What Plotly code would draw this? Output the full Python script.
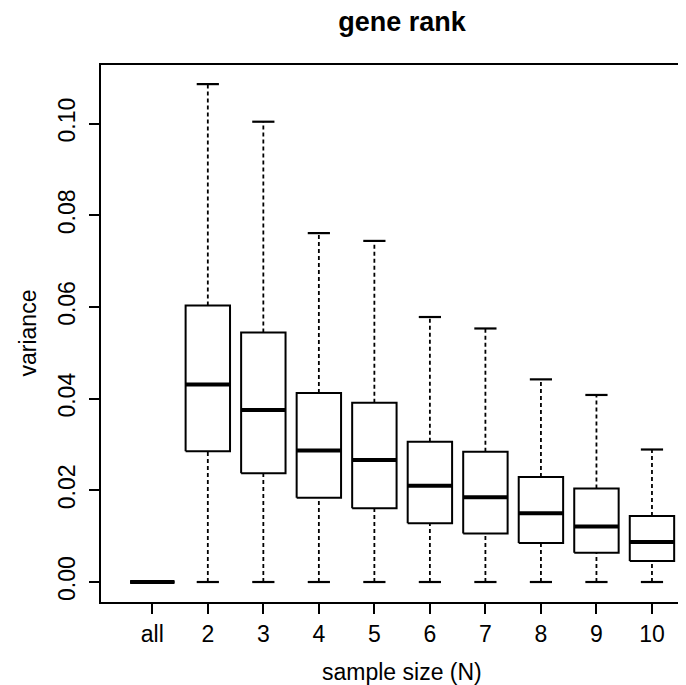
import plotly.graph_objects as go

# ---- data ----
categories = ["all", "2", "3", "4", "5", "6", "7", "8", "9", "10"]
lower_whisker = [0.0, 0.0, 0.0, 0.0, 0.0, 0.0, 0.0, 0.0, 0.0, 0.0]
q1 = [0.0, 0.0285, 0.0237, 0.0184, 0.0161, 0.0128, 0.0106, 0.0085, 0.0064, 0.0046]
median = [0.0, 0.0431, 0.0375, 0.0287, 0.0266, 0.0210, 0.0185, 0.0150, 0.0121, 0.0087]
q3 = [0.0, 0.0603, 0.0544, 0.0412, 0.0391, 0.0306, 0.0284, 0.0229, 0.0204, 0.0144]
upper_whisker = [0.0, 0.1086, 0.1004, 0.0761, 0.0744, 0.0578, 0.0553, 0.0442, 0.0408, 0.0289]
y_ticks = [0.00, 0.02, 0.04, 0.06, 0.08, 0.10]
y_tick_labels = ["0.00", "0.02", "0.04", "0.06", "0.08", "0.10"]

BOX_HALF = 0.4
CAP_HALF = 0.2
FONT = "Liberation Sans, Arial, Helvetica, sans-serif"
PAGE_OFFSET = 8  # default body margin of the page

positions = list(range(1, len(categories) + 1))

wx, wy = [], []
cx, cy = [], []
bx, by = [], []
mx, my = [], []
for p, lo, a, m, b, hi in zip(positions, lower_whisker, q1, median, q3, upper_whisker):
    wx += [p, p, None, p, p, None]
    wy += [b, hi, None, lo, a, None]
    cx += [p - CAP_HALF, p + CAP_HALF, None, p - CAP_HALF, p + CAP_HALF, None]
    cy += [hi, hi, None, lo, lo, None]
    bx += [p - BOX_HALF, p + BOX_HALF, p + BOX_HALF, p - BOX_HALF, p - BOX_HALF, None]
    by += [a, a, b, b, a, None]
    mx += [p - BOX_HALF, p + BOX_HALF, None]
    my += [m, m, None]

fig = go.Figure()
fig.add_trace(go.Scatter(x=wx, y=wy, mode="lines", hoverinfo="skip",
                         line=dict(color="black", width=1.8, dash="4px,3px")))
fig.add_trace(go.Scatter(x=cx, y=cy, mode="lines", hoverinfo="skip",
                         line=dict(color="black", width=2.2)))
fig.add_trace(go.Scatter(x=bx, y=by, mode="lines", fill="toself", fillcolor="white",
                         hoverinfo="skip", line=dict(color="black", width=2)))
fig.add_trace(go.Scatter(x=mx, y=my, mode="lines", hoverinfo="skip",
                         line=dict(color="black", width=4)))

W = 686 - PAGE_OFFSET
H = 685 - PAGE_OFFSET
L = 101 - PAGE_OFFSET
T = 65 - PAGE_OFFSET
B = H - (602 - PAGE_OFFSET)
PW = W - L
PH = H - T - B

fig.update_layout(
    width=W, height=H,
    margin=dict(l=L, r=0, t=T, b=B, pad=0),
    paper_bgcolor="white", plot_bgcolor="white",
    showlegend=False,
    font=dict(family=FONT, color="black", size=23),
    title=dict(text="<b>gene rank</b>", font=dict(size=27, family=FONT, color="black"),
               x=(402 - PAGE_OFFSET) / W, xref="container", xanchor="center",
               y=1 - (22 - PAGE_OFFSET) / H, yref="container", yanchor="middle"),
    xaxis=dict(range=[0.076, 10.613], tickvals=positions, ticktext=categories,
               showgrid=False, zeroline=False, showline=True, mirror=True,
               linecolor="black", linewidth=2, ticks="outside", ticklen=10,
               tickwidth=2, tickcolor="black", tickfont=dict(size=23),
               ticklabelstandoff=0),
    yaxis=dict(range=[-0.00436, 0.11277], tickvals=y_ticks, ticktext=y_tick_labels,
               showgrid=False, zeroline=False, showline=True, mirror=False,
               linecolor="black", linewidth=2, ticks="outside", ticklen=10,
               tickwidth=2, tickcolor="black", tickangle=-90, tickfont=dict(size=23),
               ticklabelstandoff=5),
    annotations=[
        dict(text="sample size (N)", xref="paper", yref="paper",
             x=(402 - 101) / PW, y=-70 / PH, xanchor="center", yanchor="middle",
             showarrow=False, font=dict(size=23, family=FONT, color="black")),
        dict(text="variance", xref="paper", yref="paper",
             x=-74 / PW, y=0.5, xanchor="center", yanchor="middle", textangle=-90,
             showarrow=False, font=dict(size=23, family=FONT, color="black")),
    ],
)

fig.write_html("out.html")
